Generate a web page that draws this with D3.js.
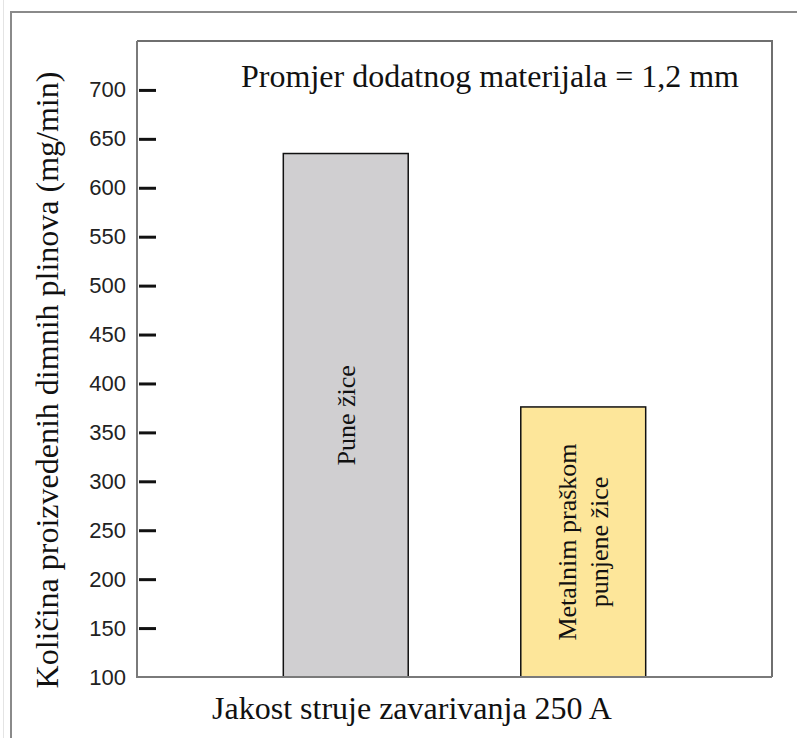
<!DOCTYPE html>
<html>
<head>
<meta charset="utf-8">
<script src="https://cdn.jsdelivr.net/npm/d3@7"></script>
<style>
  html, body { margin: 0; padding: 0; background: #fff; }
  svg { display: block; }
</style>
</head>
<body>
<svg id="chart" width="797" height="738"></svg>
<script>
"use strict";

// data
const categories = ["Pune žice", "Metalnim praškom punjene žice"];
const barLabels = [["Pune žice"], ["Metalnim praškom", "punjene žice"]];
const fumeRates = [635, 376];
const barColors = ["#d0cfd1", "#fde69a"];
const yTicks = [150, 200, 250, 300, 350, 400, 450, 500, 550, 600, 650, 700];
const yTickLabels = ["100", ...yTicks.map(String)];

const width = 797;
const height = 738;
const margin = { top: 41, right: 25, bottom: 61, left: 137 };
const serif = "'Liberation Serif', 'Times New Roman', serif";
const sans = "'Liberation Sans', Arial, sans-serif";

const svg = d3.select("svg#chart");

// outer frame of the figure
svg.append("line")
  .attr("x1", 3.5).attr("x2", 3.5).attr("y1", 0).attr("y2", height)
  .attr("stroke", "#e4e4e4").attr("stroke-width", 1);
svg.append("path")
  .attr("d", `M11,${height} V12 H${width}`)
  .attr("fill", "none")
  .attr("stroke", "#8a8a8a")
  .attr("stroke-width", 2);

// bars sit a little right of centre in the reference, so the band range is shifted
const x = d3.scaleBand()
  .domain(categories)
  .range([margin.left + 10, width - margin.right + 10])
  .paddingInner(0.474)
  .paddingOuter(0.574);

const y = d3.scaleLinear()
  .domain([100, 750])
  .range([height - margin.bottom, margin.top]);

const plot = svg.append("g").attr("id", "plot");

// bars
const bars = plot.selectAll(".bar")
  .data(categories)
  .enter()
  .append("g")
  .attr("class", "bar");

bars.append("rect")
  .attr("x", (d) => x(d))
  .attr("width", x.bandwidth())
  .attr("y", (d, i) => y(fumeRates[i]))
  .attr("height", (d, i) => y(100) - y(fumeRates[i]))
  .attr("fill", (d, i) => barColors[i])
  .attr("stroke", "#111")
  .attr("stroke-width", 1.5);

// rotated labels inside the bars
bars.append("text")
  .attr("transform", (d, i) => {
    const cx = x(d) + x.bandwidth() / 2;
    const cy = (y(fumeRates[i]) + y(100)) / 2;
    return `translate(${cx},${cy}) rotate(-90)`;
  })
  .attr("text-anchor", "middle")
  .attr("font-family", serif)
  .attr("font-size", 26)
  .attr("fill", "#111")
  .selectAll("tspan")
  .data((d, i) => barLabels[i].map((t, k, arr) => ({ t, k, n: arr.length })))
  .enter()
  .append("tspan")
  .attr("x", 0)
  .attr("y", (d) => (d.k - (d.n - 1) / 2) * 32 + 9)
  .text((d) => d.t);

// plot border (top and right) and bottom line
plot.append("path")
  .attr("d", `M${margin.left},${margin.top} H${width - margin.right} V${height - margin.bottom}`)
  .attr("fill", "none")
  .attr("stroke", "#6f6f6f")
  .attr("stroke-width", 2);
plot.append("line")
  .attr("x1", margin.left).attr("x2", width - margin.right)
  .attr("y1", y(100)).attr("y2", y(100))
  .attr("stroke", "#7a7a7a")
  .attr("stroke-width", 2);

// y axis
const yAxis = d3.axisRight(y)
  .tickValues([100, ...yTicks])
  .tickSize(17)
  .tickFormat((d, i) => yTickLabels[i]);

const gy = plot.append("g")
  .attr("transform", `translate(${margin.left + 2},0)`)
  .call(yAxis);

gy.select(".domain").remove();
gy.selectAll(".tick line")
  .attr("stroke", (d) => (d === 100 ? "none" : "#111"))
  .attr("stroke-width", 3);
gy.selectAll(".tick text")
  .attr("x", -13)
  .attr("text-anchor", "end")
  .attr("font-family", sans)
  .attr("font-size", 22)
  .attr("fill", "#222");

plot.append("line")
  .attr("x1", margin.left).attr("x2", margin.left)
  .attr("y1", margin.top).attr("y2", y(100) + 1)
  .attr("stroke", "#7a7a7a")
  .attr("stroke-width", 2);

// texts
svg.append("text")
  .attr("x", width - margin.right - 33)
  .attr("y", 87)
  .attr("text-anchor", "end")
  .attr("font-family", serif)
  .attr("font-size", 32)
  .attr("fill", "#111")
  .text("Promjer dodatnog materijala = 1,2 mm");

svg.append("text")
  .attr("transform", "translate(58,380) rotate(-90)")
  .attr("text-anchor", "middle")
  .attr("font-family", serif)
  .attr("font-size", 32)
  .attr("fill", "#111")
  .text("Količina proizvedenih dimnih plinova (mg/min)");

svg.append("text")
  .attr("x", 412)
  .attr("y", 719)
  .attr("text-anchor", "middle")
  .attr("font-family", serif)
  .attr("font-size", 32)
  .attr("fill", "#111")
  .text("Jakost struje zavarivanja 250 A");
</script>
</body>
</html>
